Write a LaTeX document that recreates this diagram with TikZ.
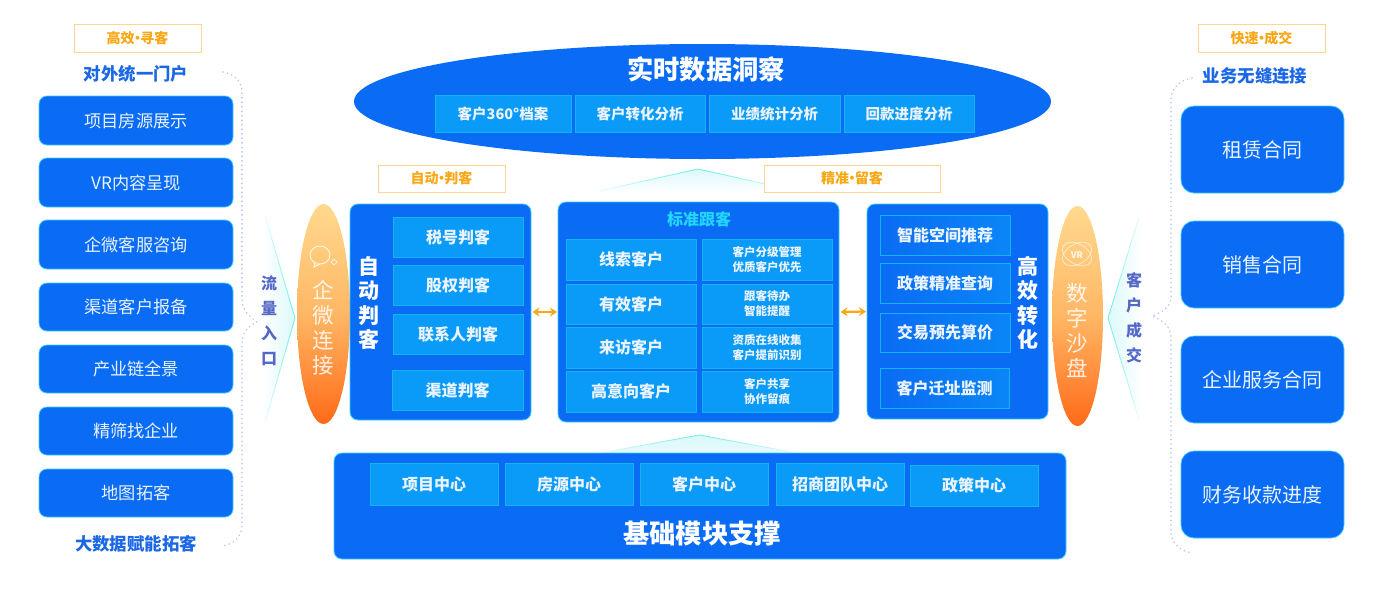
\documentclass[tikz,border=0pt]{standalone}
\usepackage{fontspec}
\setmainfont{Noto Sans CJK SC}
\usetikzlibrary{calc,arrows.meta,shapes.geometric}
\definecolor{mainblue}{HTML}{0A6CF5}
\definecolor{cellblue}{HTML}{0A9BF8}
\definecolor{ghostblue}{HTML}{0A86F6}
\definecolor{celledge}{HTML}{14B4F4}
\definecolor{glow}{HTML}{3CCBFF}
\definecolor{capblue}{HTML}{1C68E4}
\definecolor{orangeink}{HTML}{F9A714}
\definecolor{tagedge}{HTML}{FDD78F}
\definecolor{sideink}{HTML}{5568C8}
\definecolor{dotline}{HTML}{B4C5F2}
\definecolor{palecyan}{HTML}{DCF8FA}
\definecolor{edgecyan}{HTML}{6FF0E8}
\definecolor{softwhite}{HTML}{EAF3FF}
\definecolor{ovaltop}{HTML}{FFD98E}
\definecolor{ovalmid}{HTML}{FFB765}
\definecolor{ovalend}{HTML}{FF6A18}
\definecolor{titlecyan}{HTML}{22D6FF}
\newcommand{\rbox}[7]{%
  \pgfmathsetmacro\cxv{(#3+#5)/2}\pgfmathsetmacro\cyv{(#4+#6)/2}%
  \pgfmathsetmacro\wv{#5-#3}\pgfmathsetmacro\hv{#6-#4}%
  \node[#1,minimum width=\wv pt,minimum height=\hv pt] (#2) at (\cxv,\cyv) {#7};}
\newcommand{\fadeedge}[2]{%
  \foreach \t in {0,0.1,...,0.9}{%
    \pgfmathsetmacro\op{1-\t}\pgfmathsetmacro\e{\t+0.1}%
    \draw[edgecyan,line width=0.9pt,draw opacity=\op] ($(#1)!\t!(#2)$) -- ($(#1)!\e!(#2)$);}}
\newcommand{\dt}{\kern-4.2pt·\kern-4.2pt}
\tikzset{
  x=1pt,y=-1pt,
  every node/.style={inner sep=0pt,outer sep=0pt,align=center},
  sidebox/.style={fill=mainblue,draw=glow,line width=0.7pt,rounded corners=8pt,text=softwhite,font=\fontsize{17.2}{20}\selectfont},
  bigbox/.style={fill=mainblue,draw=glow,line width=0.7pt,rounded corners=13pt,text=softwhite,font=\fontsize{20}{24}\selectfont},
  panel/.style={fill=mainblue,draw=glow,line width=0.8pt,rounded corners=8pt},
  cell/.style={fill=cellblue,draw=celledge,line width=0.7pt,text=softwhite,font=\fontsize{16}{19}\bfseries\selectfont},
  smallcell/.style={cell,font=\fontsize{11.5}{15}\bfseries\selectfont},
  cellwide/.style={cell,font=\fontsize{14.5}{18}\bfseries\selectfont},
  ghostcell/.style={left color=mainblue,right color=ghostblue,draw=celledge,line width=0.8pt,text=softwhite,font=\fontsize{16}{19}\bfseries\selectfont},
  tag/.style={draw=tagedge,line width=1pt,fill=white,text=orangeink,font=\fontsize{14}{16}\bfseries\selectfont},
  caption/.style={text=capblue,font=\fontsize{17.4}{20}\bfseries\selectfont},
  bigtitle/.style={text=white,font=\fontsize{26.3}{30}\bfseries\selectfont},
  uprights/.style={text=white,font=\fontsize{21}{24.6}\bfseries\selectfont},
  sideword/.style={text=sideink,font=\fontsize{16}{25}\bfseries\selectfont},
  ovalword/.style={text=white,text opacity=0.85,font=\fontsize{21.5}{25}\selectfont},
  oval/.style={ellipse,top color=ovaltop,bottom color=ovalend,middle color=ovalmid,minimum width=#1},
  dotted bracket/.style={dotline,line width=1.7pt,dash pattern=on 0.1pt off 4.4pt,line cap=round},
  swap arrow/.style={{Stealth[length=7pt,width=9pt]}-{Stealth[length=7pt,width=9pt]},orangeink,line width=2.2pt,shorten >=1pt,shorten <=1.5pt},
}
\begin{document}
\begin{tikzpicture}
\useasboundingbox (0,0) rectangle (1400,600);
% left list
\rbox{tag}{tagL}{74}{24}{201}{52}{高效\dt 寻客}
\node[caption] (capL) at (136,74) {对外统一门户};
\rbox{sidebox}{l1}{39}{96}{233}{145}{项目房源展示}
\rbox{sidebox}{l2}{39}{158}{233}{207}{VR内容呈现}
\rbox{sidebox}{l3}{39}{220}{233}{269}{企微客服咨询}
\rbox{sidebox}{l4}{39}{283}{233}{331}{渠道客户报备}
\rbox{sidebox}{l5}{39}{345}{233}{393}{产业链全景}
\rbox{sidebox}{l6}{39}{407}{233}{455}{精筛找企业}
\rbox{sidebox}{l7}{39}{469}{233}{517}{地图拓客}
\node[caption] (capLb) at (136,544) {大数据赋能拓客};
\draw[dotted bracket] (223,72) .. controls (235,74) and (242,82) .. (242,92) -- (242,298) .. controls (242,312) and (250,316) .. (257,322) .. controls (250,326) and (242,330) .. (242,344) -- (242,525) .. controls (242,536) and (235,544) .. (222,546);
% right list
\rbox{tag}{tagR}{1198}{24}{1325}{52}{快速\dt 成交}
\node[caption] (capR) at (1255,76) {业务无缝连接};
\rbox{bigbox}{r1}{1181}{106}{1344}{193}{租赁合同}
\rbox{bigbox}{r2}{1181}{221}{1344}{308}{销售合同}
\rbox{bigbox}{r3}{1181}{336}{1344}{423}{企业服务合同}
\rbox{bigbox}{r4}{1181}{451}{1344}{538}{财务收款进度}
\draw[dotted bracket] (1192,78) .. controls (1180,80) and (1171,88) .. (1171,100) -- (1171,296) .. controls (1171,308) and (1162,312) .. (1152,316) .. controls (1162,320) and (1171,326) .. (1171,338) -- (1171,532) .. controls (1171,543) and (1180,551) .. (1192,553);
% wedges
\coordinate (wLa) at (295,318); \coordinate (wLb) at (262,205); \coordinate (wLc) at (262,433);
\shade[left color=white,right color=palecyan] (wLa) -- (wLb) -- (wLc) -- cycle;
\fadeedge{wLa}{wLb}\fadeedge{wLa}{wLc}
\coordinate (wRa) at (1108,318); \coordinate (wRb) at (1142,207); \coordinate (wRc) at (1142,430);
\shade[right color=white,left color=palecyan] (wRa) -- (wRb) -- (wRc) -- cycle;
\fadeedge{wRa}{wRb}\fadeedge{wRa}{wRc}
\coordinate (wTa) at (698,169); \coordinate (wTb) at (590,193); \coordinate (wTc) at (806,193);
\shade[top color=palecyan,bottom color=white] (wTa) -- (wTb) -- (wTc) -- cycle;
\fadeedge{wTa}{wTb}\fadeedge{wTa}{wTc}
\coordinate (wBa) at (699,435); \coordinate (wBb) at (600,453); \coordinate (wBc) at (798,453);
\shade[top color=palecyan,bottom color=palecyan!70!white] (wBa) -- (wBb) -- (wBc) -- cycle;
\fadeedge{wBa}{wBb}\fadeedge{wBa}{wBc}
\node[sideword] (wordL) at (269,321) {流\\量\\入\\口};
\node[sideword] (wordR) at (1134,318) {客\\户\\成\\交};
% ovals
\node[oval=53pt,minimum height=220pt] (ovalL) at (323.5,314) {};
\node[oval=51pt,minimum height=220pt] (ovalR) at (1077.5,316) {};
\node[ovalword] (wordOL) at (323,328) {企\\微\\连\\接};
\node[ovalword] (wordOR) at (1077,331) {数\\字\\沙\\盘};
% chat icon
\draw[white,line width=0.9pt,opacity=.85] (320,255) ellipse[x radius=10,y radius=9];
\draw[white,line width=0.9pt,opacity=.85,fill=ovaltop] (315,262) -- (314,267) -- (320,264);
\draw[white,line width=0.7pt,opacity=.85] (331,262) -- (334,259) -- (337,262) -- (334,265) -- cycle;
% VR icon
\draw[white,opacity=.6,line width=0.8pt,rotate around={30:(1077,254)}] (1077,254) ellipse[x radius=16,y radius=10];
\draw[white,opacity=.6,line width=0.8pt,rotate around={-30:(1077,254)}] (1077,254) ellipse[x radius=16,y radius=10];
\node[text=white,text opacity=.85,font=\fontsize{9}{10}\bfseries\selectfont] (vr) at (1077,255) {VR};
% top ellipse
\node[ellipse,fill=mainblue,minimum width=697pt,minimum height=115pt] (top) at (702.5,101.5) {};
\node[bigtitle] (topT) at (706,69) {实时数据洞察};
\rbox{cellwide}{t1}{435}{95}{571}{132}{客户360°档案}
\rbox{cellwide}{t2}{575}{95}{705}{132}{客户转化分析}
\rbox{cellwide}{t3}{709}{95}{840}{132}{业绩统计分析}
\rbox{cellwide}{t4}{844}{95}{974}{132}{回款进度分析}
\rbox{tag}{tagA}{378}{165}{505}{192}{自动\dt 判客}
\rbox{tag}{tagP}{764}{165}{940}{192}{精准\dt 留客}
% left panel
\rbox{panel}{pL}{350}{204}{531}{420}{}
\node[uprights] (pLT) at (369,303) {自\\动\\判\\客};
\rbox{cell}{a1}{393}{217}{523}{257}{税号判客}
\rbox{cell}{a2}{393}{265}{523}{305}{股权判客}
\rbox{cell}{a3}{393}{314}{523}{354}{联系人判客}
\rbox{cell}{a4}{392}{370}{523}{410}{渠道判客}
% centre panel
\rbox{panel}{pC}{558}{202}{839}{422}{}
\node[text=titlecyan,font=\fontsize{16}{20}\bfseries\selectfont] (pCT) at (699,219) {标准跟客};
\rbox{cell}{b1}{566}{239}{696}{280}{线索客户}
\rbox{cell}{b2}{566}{284}{696}{324}{有效客户}
\rbox{cell}{b3}{566}{327}{696}{368}{来访客户}
\rbox{cell}{b4}{566}{371}{696}{412}{高意向客户}
\rbox{smallcell}{c1}{702}{239}{832}{280}{客户分级管理\\优质客户优先}
\rbox{smallcell}{c2}{702}{284}{832}{324}{跟客待办\\智能提醒}
\rbox{smallcell}{c3}{702}{327}{832}{368}{资质在线收集\\客户提前识别}
\rbox{smallcell}{c4}{702}{371}{832}{412}{客户共享\\协作留痕}
% right panel
\rbox{panel}{pR}{867}{204}{1048}{419}{}
\node[uprights] (pRT) at (1028,303) {高\\效\\转\\化};
\rbox{ghostcell}{d1}{880}{215}{1010}{255}{智能空间推荐}
\rbox{ghostcell}{d2}{880}{263}{1010}{303}{政策精准查询}
\rbox{ghostcell}{d3}{880}{313}{1010}{352}{交易预先算价}
\rbox{ghostcell}{d4}{880}{368}{1009}{408}{客户迁址监测}
\draw[swap arrow] (pL.east) -- (pC.west);
\draw[swap arrow] (pC.east) -- (pR.west);
% bottom panel
\rbox{panel}{pB}{334}{453}{1066}{559}{}
\rbox{cell}{e1}{370}{463}{498}{505}{项目中心}
\rbox{cell}{e2}{505}{463}{633}{505}{房源中心}
\rbox{cell}{e3}{640}{463}{768}{505}{客户中心}
\rbox{cell}{e4}{776}{463}{904}{505}{招商团队中心}
\rbox{cell}{e5}{910}{465}{1038}{506}{政策中心}
\node[bigtitle] (pBT) at (702,534) {基础模块支撑};
\end{tikzpicture}
\end{document}
